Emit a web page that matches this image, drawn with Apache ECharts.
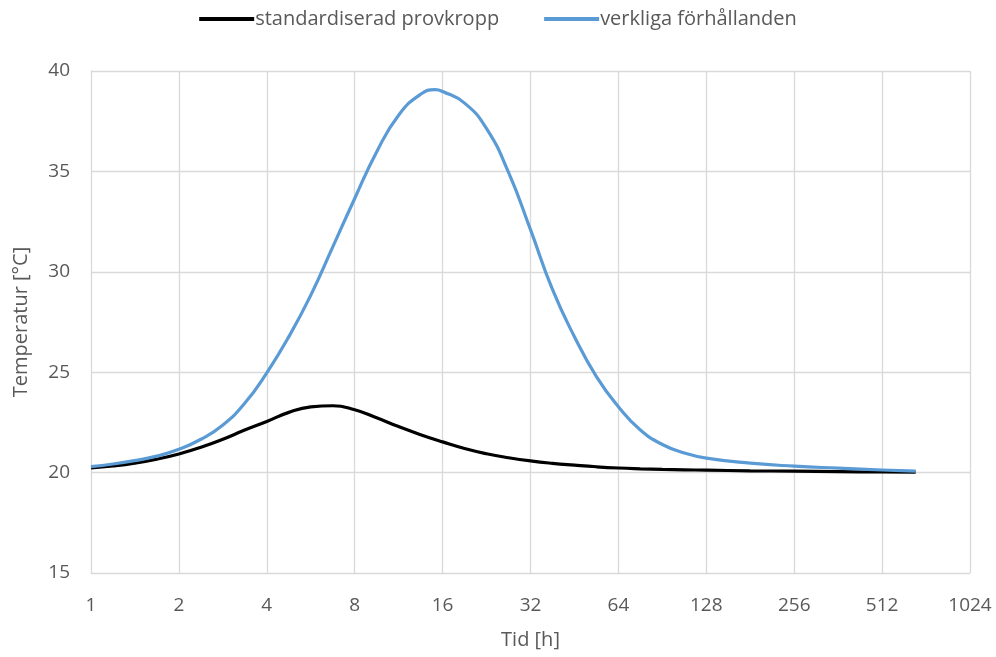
<!DOCTYPE html>
<html><head><meta charset="utf-8">
<script src="https://cdn.jsdelivr.net/npm/echarts@6/dist/echarts.min.js"></script>
<style>html,body{margin:0;padding:0;background:#fff}#c{width:996px;height:657px}</style>
</head><body><div id="c"></div>
<script>
const seriesNames = ['standardiserad provkropp', 'verkliga förhållanden'];
const xTicks = [1, 2, 4, 8, 16, 32, 64, 128, 256, 512, 1024];
const yTicks = [15, 20, 25, 30, 35, 40];

const timeBlack = [1, 1.19, 1.41, 1.68, 2, 2.38, 2.83, 3.36, 4, 4.76, 5.66, 6.73, 8, 9.51, 11.31, 13.45, 16, 19.03, 22.63, 26.91, 32, 38.05, 45.25, 53.82, 64, 76.1, 90.5, 107.6, 128, 181, 256, 362, 512, 667];
const tempBlack = [20.23, 20.33, 20.47, 20.67, 20.93, 21.26, 21.66, 22.12, 22.55, 23.0, 23.27, 23.33, 23.13, 22.73, 22.29, 21.89, 21.53, 21.2, 20.94, 20.74, 20.58, 20.46, 20.37, 20.29, 20.23, 20.19, 20.16, 20.14, 20.12, 20.09, 20.07, 20.05, 20.03, 20.02];

const timeBlue = [1, 1.19, 1.41, 1.68, 2, 2.38, 2.83, 3.36, 4, 4.76, 5.66, 6.73, 8, 9.51, 11.31, 13.45, 15.1, 16, 19.03, 22.63, 26.91, 32, 38.05, 45.25, 53.82, 64, 76.1, 90.5, 107.6, 128, 181, 256, 362, 512, 667];
const tempBlue = [20.30, 20.43, 20.6, 20.82, 21.16, 21.66, 22.37, 23.45, 24.97, 26.77, 28.84, 31.24, 33.65, 35.97, 37.8, 38.84, 39.07, 38.98, 38.4, 37.13, 34.95, 32.1, 29.12, 26.77, 24.78, 23.28, 22.12, 21.4, 20.98, 20.72, 20.47, 20.32, 20.22, 20.13, 20.07];

const pairs = (xs, ys) => xs.map((x, i) => [x, ys[i]]);
const FONT = 'Open Sans';
const GREY = '#595959';
const chart = echarts.init(document.getElementById('c'), null, {renderer: 'canvas'});
chart.setOption({
  animation: false,
  textStyle: {fontFamily: FONT},
  legend: {
    top: 4, left: 'center',
    icon: 'rect', itemWidth: 55, itemHeight: 4, itemGap: 45,
    textStyle: {fontFamily: FONT, fontSize: 20, color: GREY, padding: [0, 0, 0, -4]},
    data: seriesNames
  },
  grid: {left: 91, right: 26, top: 71, bottom: 84},
  xAxis: {
    type: 'log', logBase: 2, min: xTicks[0], max: xTicks[xTicks.length - 1], interval: 1,
    name: 'Tid [h]', nameLocation: 'middle', nameGap: 57,
    nameTextStyle: {fontFamily: FONT, fontSize: 20, color: GREY},
    axisLine: {lineStyle: {color: '#d9d9d9', width: 1}},
    axisTick: {show: false},
    axisLabel: {fontFamily: FONT, fontSize: 19, color: GREY, margin: 23, formatter: v => String(Math.round(v))},
    splitLine: {show: true, lineStyle: {color: '#d9d9d9', width: 1.3}},
    minorTick: {show: false}
  },
  yAxis: {
    type: 'value', min: yTicks[0], max: yTicks[yTicks.length - 1], interval: 5,
    name: 'Temperatur [°C]', nameLocation: 'middle', nameGap: 60, nameRotate: 90,
    nameTextStyle: {fontFamily: FONT, fontSize: 20, color: GREY},
    axisLine: {show: true, lineStyle: {color: '#d9d9d9', width: 1}},
    axisTick: {show: false},
    axisLabel: {fontFamily: FONT, fontSize: 19, color: GREY, margin: 21},
    splitLine: {show: true, lineStyle: {color: '#d9d9d9', width: 1.3}}
  },
  series: [
    {name: seriesNames[0], type: 'line', symbol: 'none', smooth: 0.5,
     lineStyle: {color: '#000000', width: 3.2}, itemStyle: {color: '#000000'},
     data: pairs(timeBlack, tempBlack)},
    {name: seriesNames[1], type: 'line', symbol: 'none', smooth: 0.5,
     lineStyle: {color: '#5b9bd5', width: 3.2}, itemStyle: {color: '#5b9bd5'},
     data: pairs(timeBlue, tempBlue)}
  ]
});
</script></body></html>
